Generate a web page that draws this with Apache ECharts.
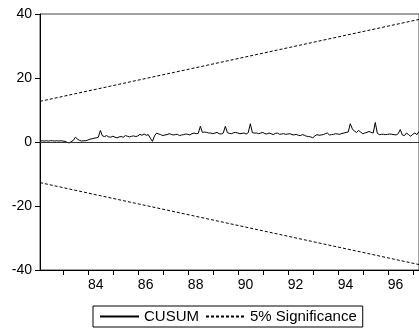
<!DOCTYPE html>
<html>
<head>
<meta charset="utf-8">
<script src="https://cdn.jsdelivr.net/npm/echarts@6/dist/echarts.min.js"></script>
<style>
html,body{margin:0;padding:0;background:#fff;}
#c{width:419px;height:333px;}
</style>
</head>
<body>
<div id="c"></div>
<script>
// Monthly observations, 1982M02 .. 1997M04
var startYear = 1982, startMonth = 2, nObs = 183;
var yTicks = [-40, -20, 0, 20, 40];
var cusum = [
 0.3,0.4,0.3,0.4,0.3,0.4,0.4,0.3,0.4,0.3,0.4,0.3,0.2,
 -0.1,-0.3,0.1,0.5,1.5,0.9,0.5,0.3,0.4,0.4,0.6,0.9,1.0,1.2,1.3,1.5,3.6,
 1.9,1.7,2.0,1.6,1.5,1.8,1.5,1.3,1.6,1.7,1.5,2.0,1.8,1.6,1.8,1.9,1.7,1.9,
 2.4,2.1,2.5,2.1,2.3,1.2,0.2,1.9,2.8,2.5,2.3,2.0,2.2,2.3,2.6,2.4,2.2,2.3,
 2.4,2.0,2.2,2.3,2.5,2.4,2.2,2.6,2.8,2.6,2.7,4.9,3.0,3.1,3.0,2.8,2.8,2.6,
 2.8,3.0,2.6,2.5,2.8,4.9,2.9,2.7,2.6,2.9,3.0,2.8,2.6,2.7,2.8,2.5,2.9,5.7,
 2.9,2.8,2.8,2.6,2.8,3.0,2.6,2.5,2.8,2.6,2.3,2.7,2.8,2.4,2.5,2.6,2.4,2.5,
 2.6,2.3,2.2,2.4,2.1,2.0,2.3,2.1,1.8,1.7,1.6,1.3,1.9,2.3,2.1,2.2,2.3,2.6,
 2.8,2.2,2.3,2.4,2.6,2.5,2.4,2.7,2.8,3.0,3.1,5.7,4.1,3.4,3.0,3.6,3.1,2.6,
 2.8,3.0,3.3,3.0,2.8,6.1,2.7,2.3,2.4,2.4,2.3,2.4,2.5,2.4,2.3,2.2,2.6,3.9,
 2.2,2.0,2.8,2.3,1.8,2.4,2.8,2.3,3.3
];
// 5% significance bounds: straight lines, values at first and last observation
var upperStart = 12.7, upperEnd = 38.3;
var lowerStart = -12.7, lowerEnd = -38.3;

var months = [];
for (var k = 0; k < nObs; k++) {
  var m = startMonth - 1 + k;
  var y = startYear + Math.floor(m / 12);
  var mm = (m % 12) + 1;
  months.push(y + 'M' + (mm < 10 ? '0' + mm : mm));
}
var last = nObs - 1;
var upper = [[0, upperStart], [last, upperEnd]];
var lower = [[0, lowerStart], [last, lowerEnd]];

var FONT = 'Liberation Sans, Arial, sans-serif';
var chart = echarts.init(document.getElementById('c'), null, {renderer: 'canvas'});
chart.setOption({
  animation: false,
  backgroundColor: '#fff',
  grid: {
    left: 40, top: 14, width: 379.2, height: 256,
    show: true, borderColor: '#444', borderWidth: 1, backgroundColor: 'transparent'
  },
  legend: {
    left: 93, top: 306,
    orient: 'horizontal',
    padding: [2, 6],
    itemWidth: 39, itemHeight: 12, itemGap: 6,
    borderColor: '#000', borderWidth: 1,
    itemStyle: {opacity: 0},
    textStyle: {fontFamily: FONT, fontSize: 15, color: '#000', lineHeight: 17},
    data: ['CUSUM', '5% Significance']
  },
  xAxis: {
    type: 'category',
    data: months,
    boundaryGap: false,
    axisLine: {onZero: false, lineStyle: {color: '#000', width: 1}},
    axisTick: {
      length: 5, inside: false, lineStyle: {color: '#000'},
      interval: function (idx, val) { return /M01$/.test(val); }
    },
    axisLabel: {
      fontFamily: FONT, fontSize: 14, color: '#000', margin: 8, align: 'left',
      interval: function (idx, val) { return /M01$/.test(val) && (parseInt(val, 10) % 2 === 0); },
      formatter: function (val) { return val.substr(2, 2); }
    },
    splitLine: {show: false}
  },
  yAxis: {
    type: 'value', min: -40, max: 40, interval: 20,
    axisLine: {show: true, onZero: false, lineStyle: {color: '#000', width: 1}},
    axisTick: {show: true, length: 5, lineStyle: {color: '#000'}},
    axisLabel: {fontFamily: FONT, fontSize: 14, color: '#000', margin: 8,
      formatter: function (v) { return yTicks.indexOf(v) >= 0 ? String(v) : ''; }},
    splitLine: {show: false}
  },
  series: [
    {
      name: 'CUSUM', type: 'line', data: cusum, symbol: 'none',
      lineStyle: {color: '#000', width: 1}, itemStyle: {color: '#000'},
      markLine: {
        silent: true, symbol: 'none', label: {show: false},
        lineStyle: {color: '#333', width: 1, type: 'solid'},
        data: [{yAxis: 0}]
      }
    },
    {
      name: '5% Significance', type: 'line', data: upper, symbol: 'none',
      lineStyle: {color: '#000', width: 1, type: [3, 2]}, itemStyle: {color: '#000'}
    },
    {
      name: '5% Significance', type: 'line', data: lower, symbol: 'none',
      lineStyle: {color: '#000', width: 1, type: [3, 2]}, itemStyle: {color: '#000'}
    }
  ]
});
</script>
</body>
</html>
